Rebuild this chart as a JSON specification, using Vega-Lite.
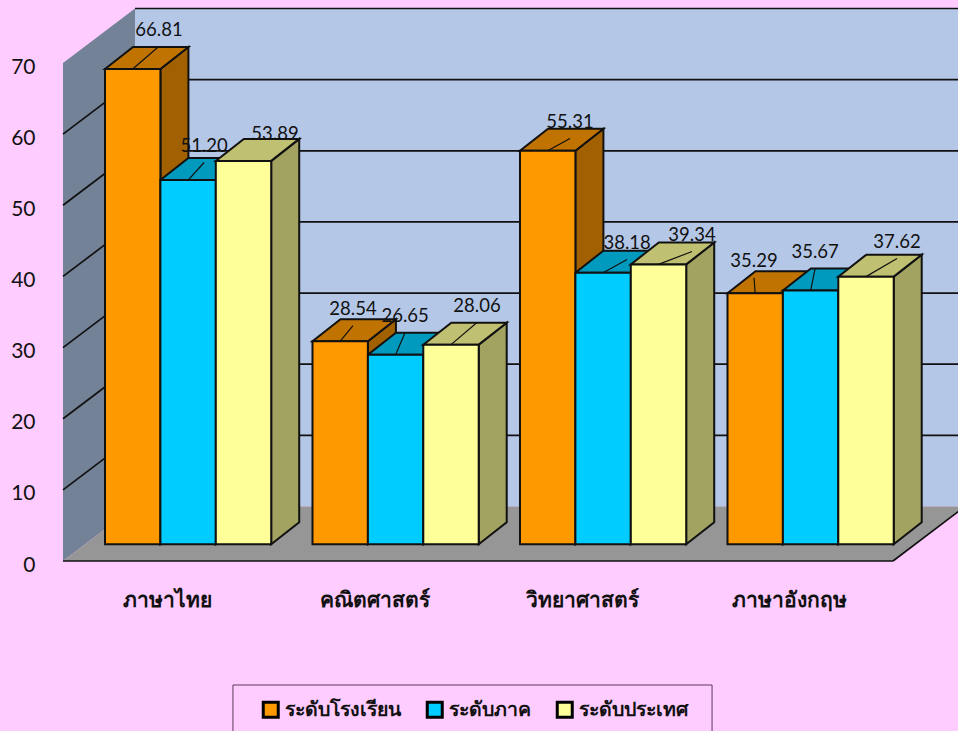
{
"$schema":"https://vega.github.io/schema/vega-lite/v6.json",
"width":830,"height":498,
"autosize":{"type":"none"},
"padding":{"left":63,"top":63,"right":65,"bottom":170},
"background":"#FFCCFF",
"config":{"view":{"stroke":null},"font":"Noto Sans"},
"data":{"values":[
{"subject":"ภาษาไทย","series":"ระดับโรงเรียน","value":66.81},
{"subject":"ภาษาไทย","series":"ระดับภาค","value":51.20},
{"subject":"ภาษาไทย","series":"ระดับประเทศ","value":53.89},
{"subject":"คณิตศาสตร์","series":"ระดับโรงเรียน","value":28.54},
{"subject":"คณิตศาสตร์","series":"ระดับภาค","value":26.65},
{"subject":"คณิตศาสตร์","series":"ระดับประเทศ","value":28.06},
{"subject":"วิทยาศาสตร์","series":"ระดับโรงเรียน","value":55.31},
{"subject":"วิทยาศาสตร์","series":"ระดับภาค","value":38.18},
{"subject":"วิทยาศาสตร์","series":"ระดับประเทศ","value":39.34},
{"subject":"ภาษาอังกฤษ","series":"ระดับโรงเรียน","value":35.29},
{"subject":"ภาษาอังกฤษ","series":"ระดับภาค","value":35.67},
{"subject":"ภาษาอังกฤษ","series":"ระดับประเทศ","value":37.62}
]},
"transform":[
{"calculate":"indexof(['ภาษาไทย','คณิตศาสตร์','วิทยาศาสตร์','ภาษาอังกฤษ'],datum.subject)","as":"g"},
{"calculate":"indexof(['ระดับโรงเรียน','ระดับภาค','ระดับประเทศ'],datum.series)","as":"s"},
{"calculate":"datum.g+0.2024+0.267*datum.s","as":"left"},
{"calculate":"datum.left+0.267","as":"right"},
{"calculate":"2.35","as":"base"},
{"calculate":"datum.base+datum.value","as":"top"}
],
"layer":[
{"data":{"values":[{"ax":0,"ay":0,"ay2":70},{"ax":0.347,"ay":7.66,"ay2":77.66}]},
 "mark":{"type":"area","color":"#748297"},
 "encoding":{
  "x":{"field":"ax","type":"quantitative","scale":{"domain":[0,4],"nice":false,"zero":false},
   "axis":{"values":[0.5,1.5,2.5,3.5],"labelExpr":"['ภาษาไทย','คณิตศาสตร์','วิทยาศาสตร์','ภาษาอังกฤษ'][floor(datum.value)]","title":null,"domain":false,"ticks":false,"grid":false,"labelPadding":28,"labelFontSize":21,"labelFontWeight":"bold","labelColor":"#111111","labelAngle":0,"labelFlush":false,"labelOverlap":false}},
  "y":{"field":"ay","type":"quantitative","stack":null,"scale":{"domain":[0,70],"nice":false},
   "axis":{"values":[0,10,20,30,40,50,60,70],"title":null,"domain":false,"ticks":false,"grid":false,"labelPadding":28,"labelOffset":4,"labelFontSize":21,"labelFont":"Lato","labelColor":"#111111"}},
  "y2":{"field":"ay2"}}},
{"data":{"values":[{"ax":0.347,"ax2":4.4,"ay":7.66,"ay2":77.66}]},
 "mark":{"type":"rect","color":"#B4C7E7"},
 "encoding":{
  "x":{"field":"ax","type":"quantitative","scale":{"domain":[0,4],"nice":false,"zero":false},"axis":null},
  "x2":{"field":"ax2"},
  "y":{"field":"ay","type":"quantitative","scale":{"domain":[0,70],"nice":false},"axis":null},
  "y2":{"field":"ay2"}}},
{"data":{"values":[{"ax":0,"ay":0,"ay2":0},{"ax":0.347,"ay":0,"ay2":7.66},{"ax":4,"ay":0,"ay2":7.66},{"ax":4.347,"ay":7.66,"ay2":7.66}]},
 "mark":{"type":"area","color":"#969696"},
 "encoding":{
  "x":{"field":"ax","type":"quantitative","scale":{"domain":[0,4],"nice":false,"zero":false},"axis":null},
  "y":{"field":"ay","type":"quantitative","stack":null,"scale":{"domain":[0,70],"nice":false},"axis":null},
  "y2":{"field":"ay2"}}},
{"data":{"values":[
 {"ax":0.347,"ax2":4.4,"ay":17.66,"ay2":17.66},{"ax":0.347,"ax2":4.4,"ay":27.66,"ay2":27.66},{"ax":0.347,"ax2":4.4,"ay":37.66,"ay2":37.66},{"ax":0.347,"ax2":4.4,"ay":47.66,"ay2":47.66},{"ax":0.347,"ax2":4.4,"ay":57.66,"ay2":57.66},{"ax":0.347,"ax2":4.4,"ay":67.66,"ay2":67.66},{"ax":0.347,"ax2":4.4,"ay":77.66,"ay2":77.66},
 {"ax":0,"ax2":0.347,"ay":10,"ay2":17.66},{"ax":0,"ax2":0.347,"ay":20,"ay2":27.66},{"ax":0,"ax2":0.347,"ay":30,"ay2":37.66},{"ax":0,"ax2":0.347,"ay":40,"ay2":47.66},{"ax":0,"ax2":0.347,"ay":50,"ay2":57.66},{"ax":0,"ax2":0.347,"ay":60,"ay2":67.66},
 {"ax":0,"ax2":4,"ay":0,"ay2":0},{"ax":4,"ax2":4.347,"ay":0,"ay2":7.66}
 ]},
 "mark":{"type":"rule","color":"#111111","strokeWidth":1.7},
 "encoding":{
  "x":{"field":"ax","type":"quantitative","scale":{"domain":[0,4],"nice":false,"zero":false},"axis":null},
  "x2":{"field":"ax2"},
  "y":{"field":"ay","type":"quantitative","scale":{"domain":[0,70],"nice":false},"axis":null},
  "y2":{"field":"ay2"}}},
{"transform":[
 {"calculate":"[0,1]","as":"corner"},{"flatten":["corner"]},
 {"calculate":"datum.right+datum.corner*0.135","as":"ax"},
 {"calculate":"datum.base+datum.corner*3.09","as":"ay"},
 {"calculate":"datum.top+datum.corner*3.09","as":"ay2"}],
 "mark":{"type":"area","stroke":"#111111","strokeWidth":2},
 "encoding":{
  "x":{"field":"ax","type":"quantitative","scale":{"domain":[0,4],"nice":false,"zero":false},"axis":null},
  "y":{"field":"ay","type":"quantitative","stack":null,"scale":{"domain":[0,70],"nice":false},"axis":null},
  "y2":{"field":"ay2"},
  "detail":{"field":"subject"},
  "color":{"field":"series","type":"nominal","legend":null,"scale":{"domain":["ระดับโรงเรียน","ระดับภาค","ระดับประเทศ"],"range":["#A26100","#0080A2","#A2A261"]}}}},
{"transform":[
 {"calculate":"[0,1,2,3]","as":"corner"},{"flatten":["corner"]},
 {"calculate":"datum.left+[0,0.135,0.267,0.402][datum.corner]","as":"ax"},
 {"calculate":"datum.top+[0,0,0,3.09][datum.corner]","as":"ay"},
 {"calculate":"datum.top+[0,3.09,3.09,3.09][datum.corner]","as":"ay2"}],
 "mark":{"type":"area","stroke":"#111111","strokeWidth":2},
 "encoding":{
  "x":{"field":"ax","type":"quantitative","scale":{"domain":[0,4],"nice":false,"zero":false},"axis":null},
  "y":{"field":"ay","type":"quantitative","stack":null,"scale":{"domain":[0,70],"nice":false},"axis":null},
  "y2":{"field":"ay2"},
  "detail":{"field":"subject"},
  "color":{"field":"series","type":"nominal","legend":null,"scale":{"domain":["ระดับโรงเรียน","ระดับภาค","ระดับประเทศ"],"range":["#C07300","#009ABF","#C0C073"]}}}},
{"mark":{"type":"rect","stroke":"#111111","strokeWidth":2},
 "encoding":{
  "x":{"field":"left","type":"quantitative","scale":{"domain":[0,4],"nice":false,"zero":false},"axis":null},
  "x2":{"field":"right"},
  "y":{"field":"top","type":"quantitative","scale":{"domain":[0,70],"nice":false},"axis":null},
  "y2":{"field":"base"},
  "color":{"field":"series","type":"nominal","scale":{"domain":["ระดับโรงเรียน","ระดับภาค","ระดับประเทศ"],"range":["#FF9900","#00CCFF","#FFFF99"]},
   "legend":{"orient":"none","legendX":198,"legendY":637,"direction":"horizontal","columns":3,"gridAlign":"none","title":null,"padding":0,"symbolType":"square","symbolSize":225,"symbolStrokeColor":"#000000","symbolStrokeWidth":3,"symbolOpacity":1,"labelFontSize":19.5,"labelFontWeight":"bold","labelColor":"#111111","columnPadding":20,"labelOffset":4}}}},
{"data":{"values":[{"ax":0.819,"ax2":3.128,"ay":-17.43,"ay2":-30}]},
 "mark":{"type":"rect","fillOpacity":0,"stroke":"#5A3A5A","strokeWidth":1},
 "encoding":{
  "x":{"field":"ax","type":"quantitative","scale":{"domain":[0,4],"nice":false,"zero":false},"axis":null},
  "x2":{"field":"ax2"},
  "y":{"field":"ay","type":"quantitative","scale":{"domain":[0,70],"nice":false},"axis":null},
  "y2":{"field":"ay2"}}},
{"transform":[
 {"calculate":"[[26.3,16,31.5],[12.8,9.5,26],[22.3,24,33.5],[-1.2,4.5,31]][datum.g][datum.s]/207.5","as":"shiftX"},
 {"calculate":"[[39.3,34,27],[32,38.7,38.7],[28.8,29.7,29.4],[32,38.5,34.6]][datum.g][datum.s]/7.114","as":"shiftY"},
 {"calculate":"(datum.left+datum.right)/2","as":"cx"},
 {"calculate":"datum.cx+datum.shiftX","as":"lx"},
 {"calculate":"datum.top+datum.shiftY","as":"ly"},
 {"calculate":"datum.ly-16.5/7.114","as":"ly0"},
 {"filter":"datum.value!=53.89"}],
 "mark":{"type":"rule","color":"#111111","strokeWidth":1.2},
 "encoding":{
  "x":{"field":"cx","type":"quantitative","scale":{"domain":[0,4],"nice":false,"zero":false},"axis":null},
  "x2":{"field":"lx"},
  "y":{"field":"top","type":"quantitative","scale":{"domain":[0,70],"nice":false},"axis":null},
  "y2":{"field":"ly0"}}},
{"transform":[
 {"calculate":"[[26.3,16,31.5],[12.8,9.5,26],[22.3,24,33.5],[-1.2,4.5,31]][datum.g][datum.s]/207.5","as":"shiftX"},
 {"calculate":"[[39.3,34,27],[32,38.7,38.7],[28.8,29.7,29.4],[32,38.5,34.6]][datum.g][datum.s]/7.114","as":"shiftY"},
 {"calculate":"(datum.left+datum.right)/2+datum.shiftX","as":"lx"},
 {"calculate":"datum.top+datum.shiftY","as":"ly"}],
 "mark":{"type":"text","font":"Lato","fontSize":18.5,"color":"#111111","align":"center","baseline":"middle"},
 "encoding":{
  "x":{"field":"lx","type":"quantitative","scale":{"domain":[0,4],"nice":false,"zero":false},"axis":null},
  "y":{"field":"ly","type":"quantitative","scale":{"domain":[0,70],"nice":false},"axis":null},
  "text":{"field":"value","type":"quantitative","format":".2f"}}}
],
"resolve":{"scale":{"color":"independent"},"axis":{"x":"independent","y":"independent"}}
}
